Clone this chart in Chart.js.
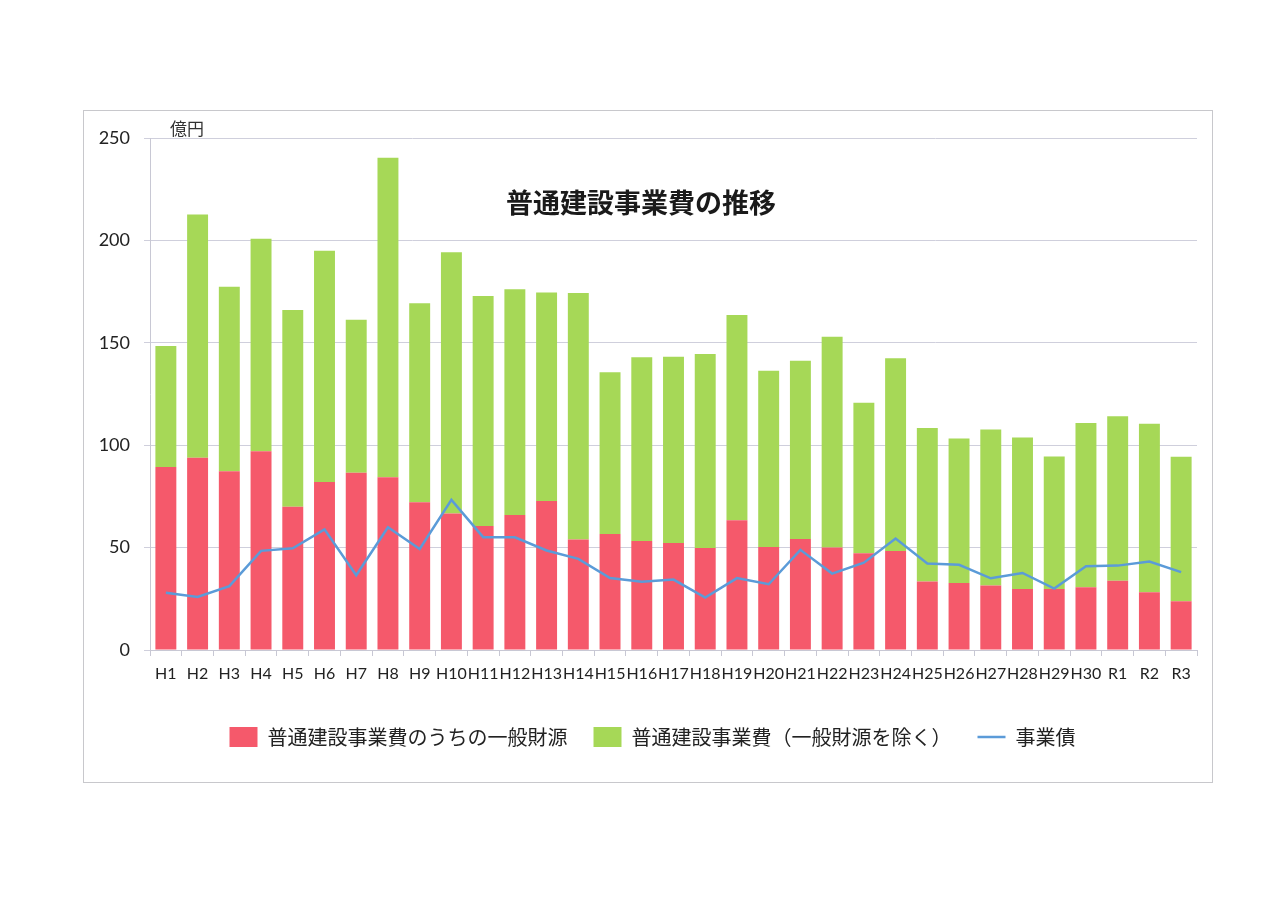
<!DOCTYPE html>
<html>
<head>
<meta charset="utf-8">
<script src="https://cdn.jsdelivr.net/npm/chart.js@4/dist/chart.umd.min.js"></script>
<style>
  html, body { margin: 0; padding: 0; background: #fff; }
  #chart { position: absolute; left: 0; top: 0; }
</style>
</head>
<body>
<canvas id="chart" width="1280" height="905"></canvas>
<script>
// 年度ラベル
const years = ["H1","H2","H3","H4","H5","H6","H7","H8","H9","H10","H11","H12","H13","H14","H15","H16","H17","H18","H19","H20","H21","H22","H23","H24","H25","H26","H27","H28","H29","H30","R1","R2","R3"];

// 普通建設事業費のうちの一般財源（億円）
const generalFunds = [89.4, 93.9, 87.3, 97.0, 70.0, 82.0, 86.6, 84.3, 72.1, 66.7, 60.5, 65.9, 72.7, 53.9, 56.7, 53.2, 52.2, 49.8, 63.4, 50.3, 54.2, 50.0, 47.2, 48.3, 33.5, 32.7, 31.5, 29.8, 29.8, 30.7, 33.8, 28.2, 23.8];

// 普通建設事業費（一般財源を除く）
const otherFunds = [59.0, 118.8, 90.1, 103.8, 96.0, 113.0, 74.6, 156.1, 97.2, 127.5, 112.3, 110.2, 101.8, 120.4, 78.9, 89.7, 91.0, 94.7, 100.2, 86.0, 87.0, 103.0, 73.5, 94.2, 74.9, 70.6, 76.2, 74.0, 64.7, 80.1, 80.3, 82.3, 70.5];

// 事業債
const bonds = [27.9, 25.9, 31.2, 48.4, 49.7, 58.9, 36.5, 59.9, 49.3, 73.3, 55.1, 55.0, 48.6, 44.5, 35.1, 33.3, 34.4, 25.6, 35.1, 32.1, 48.9, 37.3, 42.6, 54.4, 42.2, 41.6, 35.0, 37.6, 30.0, 40.9, 41.2, 43.2, 38.0];

const yTicks = [0, 50, 100, 150, 200, 250];

const JP = '"Noto Sans CJK JP", "Noto Sans", sans-serif';
const NUM = 'Lato, "Noto Sans", sans-serif';

// 外枠・タイトル・単位を描くプラグイン
const decor = {
  id: 'decor',
  afterLayout(chart) {
    // 凡例を少し右に寄せる
    chart.legend.left += 54;
    chart.legend.right += 54;
  },
  beforeDraw(chart) {
    const c = chart.ctx;
    c.save();
    c.fillStyle = '#fff';
    c.fillRect(0, 0, chart.width, chart.height);
    c.strokeStyle = '#c8c8cc';
    c.lineWidth = 1;
    c.strokeRect(83.5, 110.5, 1129, 672);
    c.restore();
  },
  afterDraw(chart) {
    const c = chart.ctx;
    c.save();
    c.fillStyle = '#1a1a1a';
    c.font = 'bold 27px ' + JP;
    c.textAlign = 'center';
    c.textBaseline = 'middle';
    c.fillText('普通建設事業費の推移', 641, 203);
    c.font = '17px ' + JP;
    c.textAlign = 'left';
    c.fillStyle = '#333';
    c.fillText('億円', 170, 129);
    c.restore();
  }
};

new Chart(document.getElementById('chart'), {
  type: 'bar',
  data: {
    labels: years,
    datasets: [
      {
        label: '普通建設事業費のうちの一般財源',
        data: generalFunds,
        backgroundColor: '#f5596b',
        stack: 'cost',
        order: 2,
        pointStyle: 'rect',
        barPercentage: 0.66,
        categoryPercentage: 1
      },
      {
        label: '普通建設事業費（一般財源を除く）',
        data: otherFunds,
        backgroundColor: '#a6d857',
        stack: 'cost',
        order: 2,
        pointStyle: 'rect',
        barPercentage: 0.66,
        categoryPercentage: 1
      },
      {
        type: 'line',
        label: '事業債',
        data: bonds,
        borderColor: '#5b9bd8',
        backgroundColor: '#5b9bd8',
        borderWidth: 2.5,
        pointRadius: 0,
        tension: 0,
        stack: 'bond',
        order: 1,
        pointStyle: 'line'
      }
    ]
  },
  options: {
    responsive: false,
    animation: false,
    devicePixelRatio: 1,
    layout: { padding: { left: 0, right: 83, top: 138, bottom: 148 } },
    plugins: {
      legend: {
        position: 'bottom',
        labels: {
          usePointStyle: true,
          pointStyleWidth: 28,
          boxHeight: 20,
          padding: 26,
          color: '#222',
          font: { family: JP, size: 20 },
          sort: (a, b) => a.datasetIndex - b.datasetIndex
        }
      },
      tooltip: { enabled: false }
    },
    scales: {
      x: {
        stacked: true,
        afterFit(scale) { scale.height = 51; },
        grid: { drawOnChartArea: false, drawTicks: true, tickLength: 6, color: '#c8c8d4', offset: true },
        border: { color: '#c8c8d4' },
        ticks: { color: '#222', font: { family: NUM, size: 16 }, padding: 8, maxRotation: 0, autoSkip: false }
      },
      y: {
        stacked: true,
        min: 0,
        max: 250,
        afterFit(scale) { scale.width = 150; },
        afterBuildTicks(scale) { scale.ticks = yTicks.map(v => ({ value: v })); },
        grid: { color: '#cfcfdc', tickLength: 6 },
        border: { color: '#c8c8d4' },
        ticks: { color: '#222', font: { family: NUM, size: 18 }, padding: 14 }
      }
    }
  },
  plugins: [decor]
});
</script>
</body>
</html>
